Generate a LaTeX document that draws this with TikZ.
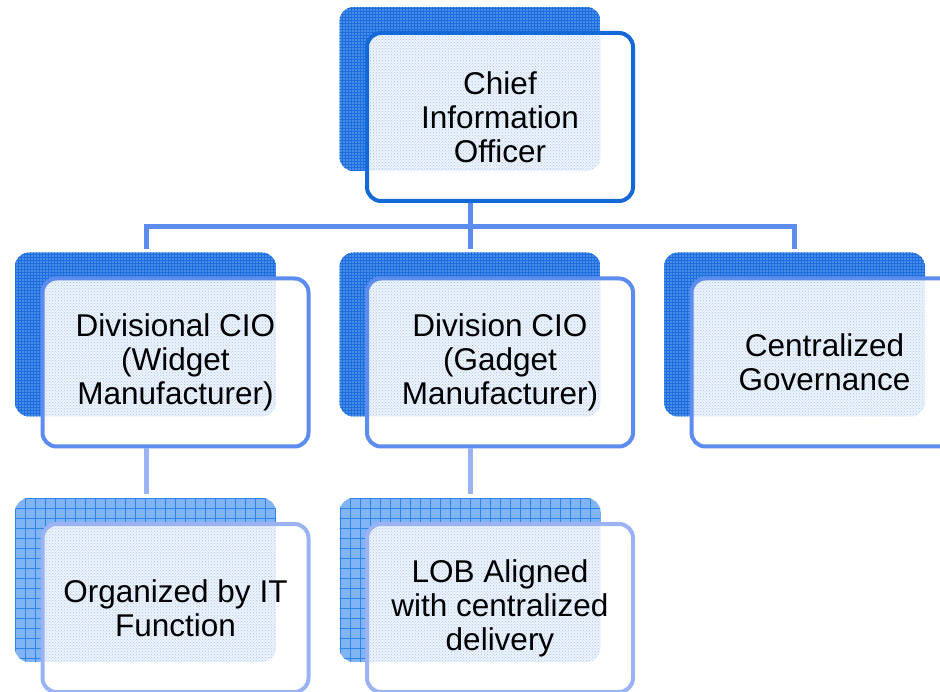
\documentclass[tikz,border=0pt]{standalone}
\usepackage{fontspec}
\setmainfont{Liberation Sans}
\usetikzlibrary{patterns}
\definecolor{topborder}{HTML}{1469D9}
\definecolor{midborder}{HTML}{5C8DEE}
\definecolor{lowborder}{HTML}{9BB3F2}
\definecolor{shbase}{HTML}{4A8DE8}
\definecolor{shgrid}{HTML}{1C6EDC}
\definecolor{lowbase}{HTML}{82B4F5}
\definecolor{lowgrid}{HTML}{2C84EA}
\definecolor{paledot}{HTML}{A9C8F3}
\definecolor{palebg}{HTML}{EDF3FC}
\tikzset{
  boxtext/.style={font=\fontsize{31.5}{34}\selectfont, align=center, text=black},
  frontbox/.style={rectangle, rounded corners=14pt, minimum width=266pt, minimum height=168pt, line width=4pt, inner sep=0pt},
  link/.style={line width=5pt, color=midborder},
  lowlink/.style={line width=5pt, color=lowborder},
}
% #1 name, #2 x, #3 y, #4 fine(1)/coarse(0) shadow, #5 border colour, #6 text
\newcommand\orgbox[6]{%
  \begin{scope}[shift={(#2,#3)}]
    \begin{scope}
      \clip[rounded corners=14pt] (-160.5,-110) rectangle (100.5,54);
      \ifnum#4=1
        \fill[shbase] (-160.5,-110) rectangle (100.5,54);
        \fill[pattern=grid, pattern color=shgrid] (-160.5,-110) rectangle (100.5,54);
      \else
        \fill[lowbase] (-160.5,-110) rectangle (100.5,54);
        \fill[pattern=crosshatch dots, pattern color=lowgrid!60] (-160.5,-110) rectangle (100.5,54);
        \draw[lowgrid, line width=0.9pt, step=10pt] (-170,-120) grid (110,60);
      \fi
    \end{scope}
    \node[frontbox, fill=white] at (0,0) {};
    \begin{scope}
      \clip[rounded corners=14pt] (-133,-84) rectangle (133,84);
      \fill[palebg, rounded corners=14pt] (-160.5,-110) rectangle (100.5,54);
      \fill[pattern=crosshatch dots, pattern color=paledot, rounded corners=14pt] (-160.5,-110) rectangle (100.5,54);
    \end{scope}
    \node[frontbox, draw=#5, boxtext] (#1) at (0,0) {#6};
  \end{scope}}
\begin{document}
\begin{tikzpicture}[x=1pt, y=-1pt]
\useasboundingbox (0,0) rectangle (940,692);
\fill[white] (0,0) rectangle (940,692);
\coordinate (hl) at (146,227);
\coordinate (hm) at (470,227);
\coordinate (hr) at (794,227);
\coordinate (el) at (146,249);
\coordinate (em) at (470,249);
\coordinate (er) at (794,249);
\coordinate (ll) at (146,494);
\coordinate (lm) at (470,494);
\orgbox{cio}{500}{117}{1}{topborder}{Chief\\Information\\Officer}
\orgbox{widget}{175.5}{362.5}{1}{midborder}{Divisional CIO\\(Widget\\Manufacturer)}
\orgbox{gadget}{500}{362.5}{1}{midborder}{Division CIO\\(Gadget\\Manufacturer)}
\orgbox{gov}{824.5}{362.5}{1}{midborder}{Centralized\\Governance}
\orgbox{itfunc}{175.5}{608}{0}{lowborder}{Organized by IT\\Function}
\orgbox{lob}{500}{608}{0}{lowborder}{LOB Aligned\\with centralized\\delivery}
\draw[link] (el) -- (hl) -- (hr) -- (er);
\draw[link] (cio.south -| hm) -- (em);
\draw[lowlink] (widget.south -| ll) -- (ll);
\draw[lowlink] (gadget.south -| lm) -- (lm);
\end{tikzpicture}
\end{document}
